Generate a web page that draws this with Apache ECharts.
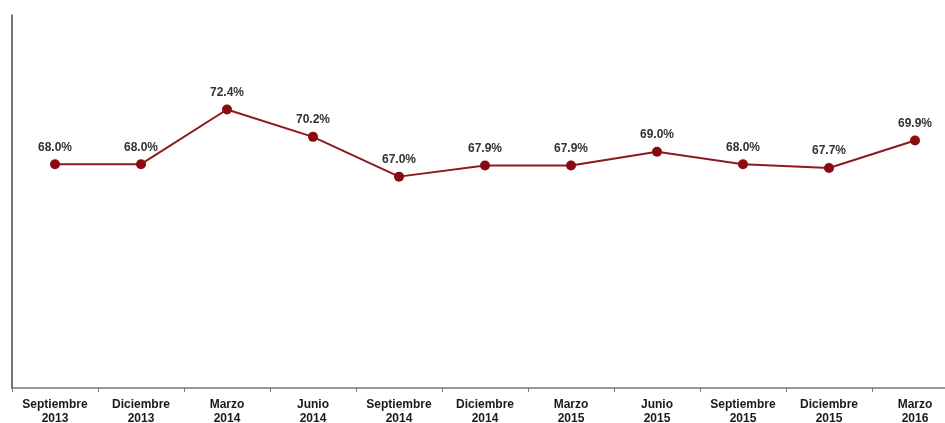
<!DOCTYPE html>
<html>
<head>
<meta charset="utf-8">
<script src="https://cdn.jsdelivr.net/npm/echarts@6/dist/echarts.min.js"></script>
<style>html,body{margin:0;padding:0;background:#fff;overflow:hidden;width:945px;height:423px;}#c{width:958px;height:423px;}</style>
</head>
<body>
<div id="c"></div>
<script>
var categories = ["Septiembre\n2013","Diciembre\n2013","Marzo\n2014","Junio\n2014","Septiembre\n2014","Diciembre\n2014","Marzo\n2015","Junio\n2015","Septiembre\n2015","Diciembre\n2015","Marzo\n2016"];
var values = [68.0, 68.0, 72.4, 70.2, 67.0, 67.9, 67.9, 69.0, 68.0, 67.7, 69.9];

var chart = echarts.init(document.getElementById('c'), null, {renderer: 'canvas'});
chart.setOption({
  animation: false,
  grid: {left: 12, right: 0, top: 15, bottom: 35, containLabel: false, outerBoundsMode: 'none'},
  xAxis: {
    type: 'category',
    data: categories,
    boundaryGap: true,
    axisLine: {lineStyle: {color: '#777', width: 1.5}},
    axisTick: {show: true, alignWithLabel: false, length: 4, lineStyle: {color: '#777'}},
    axisLabel: {
      interval: 0, margin: 10, color: '#1a1a1a', fontFamily: 'Liberation Sans, Arial, sans-serif',
      fontWeight: 'bold', fontSize: 12, lineHeight: 14
    }
  },
  yAxis: {
    type: 'value', min: 50, max: 80,
    axisLine: {show: true, lineStyle: {color: '#444', width: 1.5}},
    axisTick: {show: false},
    axisLabel: {show: false},
    splitLine: {show: false}
  },
  series: [{
    type: 'line',
    data: values,
    symbol: 'circle',
    symbolSize: 10,
    lineStyle: {color: '#8b1a1e', width: 2},
    itemStyle: {color: '#8b0a10'},
    label: {
      show: true, position: 'top', distance: 6,
      formatter: function(p){ return p.value.toFixed(1) + '%'; },
      color: '#333', fontFamily: 'Liberation Sans, Arial, sans-serif', fontWeight: 'bold', fontSize: 12
    }
  }]
});
</script>
</body>
</html>
